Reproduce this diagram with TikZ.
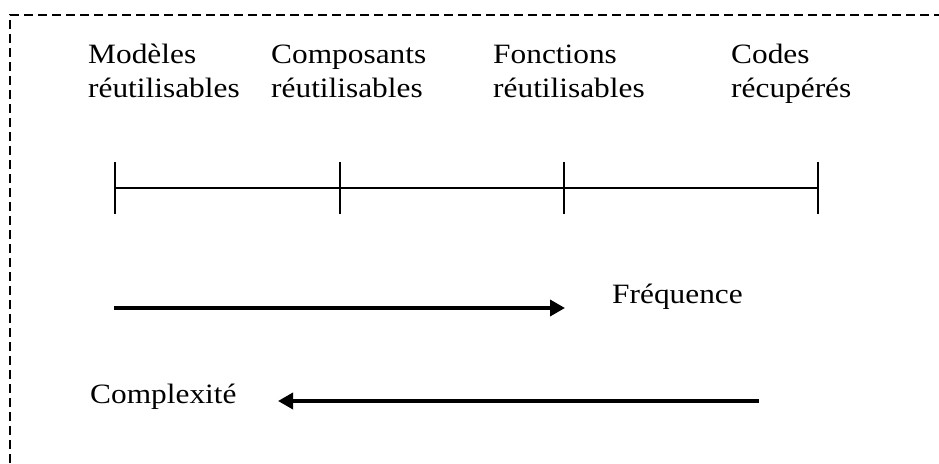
\documentclass[tikz,border=0pt]{standalone}
\usepackage{fontspec}
\setmainfont{Liberation Serif}[FakeStretch=1.12]
\usetikzlibrary{arrows.meta}
\begin{document}
\begin{tikzpicture}[x=1pt,y=-1pt,
  lbl/.style={font=\fontsize{28}{34}\selectfont, inner sep=0pt, align=left, anchor=base west},
  axisline/.style={line width=2pt},
  bigarrow/.style={line width=3.5pt, -{Triangle[length=15pt,width=16pt]}},
  border/.style={line width=2pt, dash pattern=on 9pt off 5pt}]
\useasboundingbox (0,0) rectangle (939,463);
\draw[border] (10,463) -- (10,15) -- (945,15);
% labels (base anchor = last line)
\node[lbl] (mod) at (88,97) {Modèles\\réutilisables};
\node[lbl] (comp) at (271,97) {Composants\\réutilisables};
\node[lbl] (fonc) at (493,97) {Fonctions\\réutilisables};
\node[lbl] (code) at (731,97) {Codes\\récupérés};
% axis
\coordinate (t1) at (115,188);
\coordinate (t2) at (340,188);
\coordinate (t3) at (564,188);
\coordinate (t4) at (818,188);
\draw[axisline] (t1) -- (t4);
\foreach \t in {t1,t2,t3,t4}{
  \draw[axisline] ([yshift=-26pt]\t) -- ([yshift=26pt]\t);
}
% arrows
\coordinate (fa) at (114,308);
\coordinate (fb) at (565,308);
\draw[bigarrow] (fa) -- (fb);
\node[lbl] (freq) at (612,303) {Fréquence};
\coordinate (ca) at (759,401);
\coordinate (cb) at (278,401);
\draw[bigarrow] (ca) -- (cb);
\node[lbl] (cplx) at (90,403) {Complexité};
\end{tikzpicture}
\end{document}
